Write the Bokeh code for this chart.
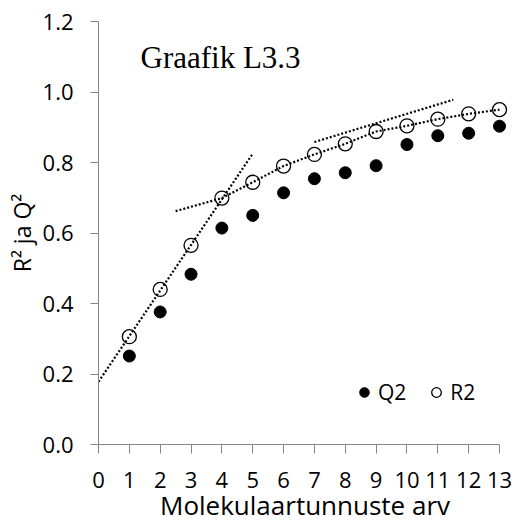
from bokeh.embed import file_html
from bokeh.models import FixedTicker, Label, Legend, LegendItem, NumeralTickFormatter, Range1d
from bokeh.plotting import figure
from bokeh.resources import INLINE

# Number of molecular descriptors in the model and the resulting statistics
descriptor_counts = [1, 2, 3, 4, 5, 6, 7, 8, 9, 10, 11, 12, 13]
q2_values = [0.251, 0.376, 0.483, 0.614, 0.650, 0.714, 0.754, 0.771, 0.791, 0.851, 0.876, 0.883, 0.903]
r2_values = [0.306, 0.440, 0.565, 0.699, 0.744, 0.790, 0.823, 0.853, 0.888, 0.904, 0.923, 0.938, 0.950]

# Dotted guide lines drawn over the R2 series
steep_trend_x = [0.0, 5.0]
steep_trend_y = [0.178, 0.825]
flat_trend_start = (2.5, 0.662)
upper_trend_x = [7.0, 11.5]
upper_trend_y = [0.858, 0.978]

x_ticks = list(range(0, 14))
y_ticks = [0.0, 0.2, 0.4, 0.6, 0.8, 1.0, 1.2]

TICK_FONT = "Open Sans"
AXIS_GREY = "#868686"

# Frame geometry: 0..13 descriptors spread over 401 px, a little extra room on the right
left, right, top, bottom = 98, 3, 21, 81
width, height = 514, 525
px_per_unit = 401 / 13
x_end = (width - left - right) / px_per_unit

p = figure(
    width=width,
    height=height,
    x_range=Range1d(0, x_end),
    y_range=Range1d(0, 1.2),
    min_border_left=left,
    min_border_right=right,
    min_border_top=top,
    min_border_bottom=bottom,
    output_backend="svg",
    toolbar_location=None,
    background_fill_color="white",
    border_fill_color="white",
)
p.outline_line_color = None
p.xgrid.visible = False
p.ygrid.visible = False

# Axes
for ax in (p.xaxis[0], p.yaxis[0]):
    ax.axis_line_color = AXIS_GREY
    ax.major_tick_line_color = AXIS_GREY
    ax.minor_tick_line_color = None
    ax.major_tick_in = 0
    ax.major_label_text_font = TICK_FONT
    ax.major_label_text_font_size = "22px"
    ax.major_label_text_color = "black"
    ax.axis_label_text_font = TICK_FONT
    ax.axis_label_text_font_style = "normal"
    ax.axis_label_text_color = "black"

p.xaxis.ticker = FixedTicker(ticks=x_ticks)
p.xaxis.bounds = (0, 13)
p.xaxis.major_tick_out = 9
p.xaxis.major_label_standoff = 18
p.xaxis.axis_label = "Molekulaartunnuste arv"
p.xaxis.axis_label_text_font_size = "26px"
p.xaxis.axis_label_standoff = -4

p.yaxis.ticker = FixedTicker(ticks=y_ticks)
p.yaxis.formatter = NumeralTickFormatter(format="0.0")
p.yaxis.major_tick_out = 8
p.yaxis.major_label_standoff = 17
p.yaxis.axis_label = "R² ja Q²"
p.yaxis.axis_label_text_font_size = "23px"
p.yaxis.axis_label_standoff = 2

# Data points
q_r = p.scatter(descriptor_counts, q2_values, marker="circle", size=12,
                fill_color="black", line_color="black")
r_r = p.scatter(descriptor_counts, r2_values, marker="circle", size=14,
                fill_color=None, line_color="black", line_width=1.3)

# Dotted guide lines
dots = dict(line_color="black", line_width=2.2, line_dash="2 2")
p.line(steep_trend_x, steep_trend_y, **dots)
flat_x = [flat_trend_start[0]] + descriptor_counts[3:]
flat_y = [flat_trend_start[1]] + r2_values[3:]
p.line(flat_x, flat_y, **dots)
p.line(upper_trend_x, upper_trend_y, **dots)

# Legend
legend = Legend(
    items=[LegendItem(label="Q2", renderers=[q_r]), LegendItem(label="R2", renderers=[r_r])],
    orientation="horizontal",
    location=(254, 38),
    padding=0,
    margin=0,
    spacing=18,
    glyph_width=24,
    glyph_height=24,
    label_height=24,
    label_standoff=2,
    label_text_font=TICK_FONT,
    label_text_font_size="21px",
    label_text_color="black",
    border_line_color=None,
    background_fill_alpha=0,
)
p.add_layout(legend)

# Chart caption inside the plot area (screen offsets from the frame's bottom-left corner)
p.add_layout(Label(x=140 - left, y=(height - bottom) - 56.7, x_units="screen", y_units="screen",
                   text="Graafik L3.3", text_font="Liberation Serif", text_font_size="31px",
                   text_color="black", text_baseline="alphabetic"))

open("out.html", "w").write(file_html(p, INLINE))
